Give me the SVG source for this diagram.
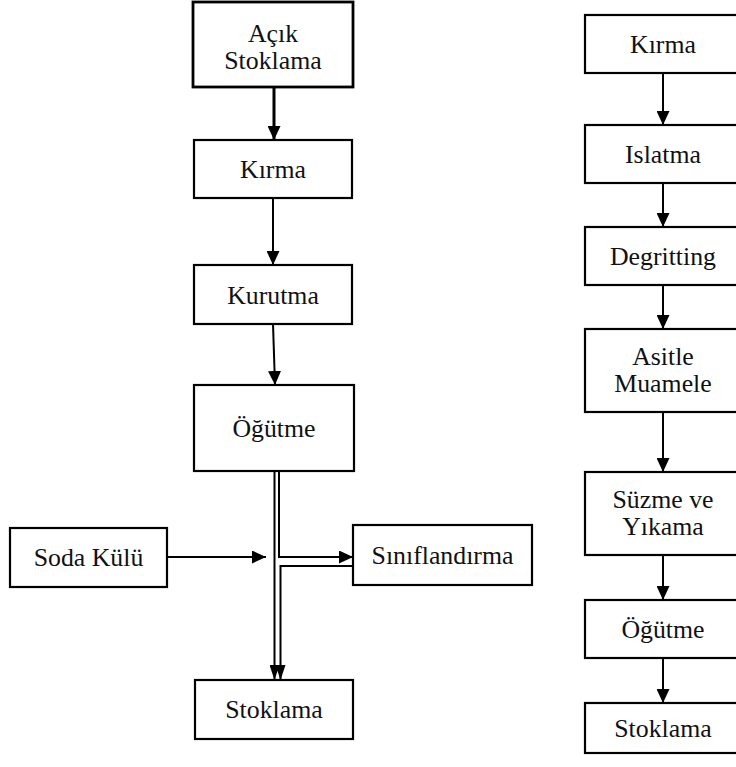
<svg xmlns="http://www.w3.org/2000/svg" width="736" height="767" viewBox="0 0 736 767">
  <style>
    .box { fill: #fff; stroke: #000; stroke-width: 2.2; }
    .lbl { font-family: "Liberation Serif", "Times New Roman", serif; font-size: 25.8px; fill: #111; text-anchor: middle; }
    .ln { fill: none; stroke: #000; stroke-width: 2; }
    .ah { fill: #000; }
  </style>
  <defs>
    <marker id="arrow" viewBox="0 0 14 13" refX="14" refY="6.5" markerWidth="14" markerHeight="13" markerUnits="userSpaceOnUse" orient="auto">
      <path d="M0,0 L14,6.5 L0,13 Z" class="ah"/>
    </marker>
    <marker id="arrowSm" viewBox="0 0 15 10" refX="15" refY="5" markerWidth="15" markerHeight="10" markerUnits="userSpaceOnUse" orient="auto">
      <path d="M0,0 L15,5 L0,10 Z" class="ah"/>
    </marker>
  </defs>

  <!-- left process line -->
  <g id="acik-stoklama">
    <rect class="box" x="193" y="2" width="160" height="85" style="stroke-width:2.8"/>
    <text class="lbl" x="273" y="42">Açık</text>
    <text class="lbl" x="273" y="69">Stoklama</text>
  </g>
  <g id="kirma-1">
    <rect class="box" x="194" y="140" width="158" height="58"/>
    <text class="lbl" x="273" y="178">Kırma</text>
  </g>
  <g id="kurutma">
    <rect class="box" x="194" y="265" width="158" height="59"/>
    <text class="lbl" x="273" y="304">Kurutma</text>
  </g>
  <g id="ogutme-1">
    <rect class="box" x="194" y="385" width="160" height="86"/>
    <text class="lbl" x="274" y="437">Öğütme</text>
  </g>
  <g id="soda-kulu">
    <rect class="box" x="10" y="528" width="157" height="59"/>
    <text class="lbl" x="88.5" y="566">Soda Külü</text>
  </g>
  <g id="siniflandirma">
    <rect class="box" x="353" y="525" width="179" height="60"/>
    <text class="lbl" x="442.5" y="564">Sınıflandırma</text>
  </g>
  <g id="stoklama-1">
    <rect class="box" x="195" y="680" width="158" height="59"/>
    <text class="lbl" x="274" y="718">Stoklama</text>
  </g>

  <!-- right process line -->
  <g id="kirma-2">
    <rect class="box" x="585" y="15" width="156" height="58"/>
    <text class="lbl" x="663" y="53">Kırma</text>
  </g>
  <g id="islatma">
    <rect class="box" x="585" y="125" width="156" height="58"/>
    <text class="lbl" x="663" y="163">Islatma</text>
  </g>
  <g id="degritting">
    <rect class="box" x="585" y="227" width="156" height="58"/>
    <text class="lbl" x="663" y="265">Degritting</text>
  </g>
  <g id="asitle-muamele">
    <rect class="box" x="585" y="329" width="156" height="83"/>
    <text class="lbl" x="663" y="365">Asitle</text>
    <text class="lbl" x="663" y="392">Muamele</text>
  </g>
  <g id="suzme-yikama">
    <rect class="box" x="585" y="472" width="156" height="83"/>
    <text class="lbl" x="663" y="508">Süzme ve</text>
    <text class="lbl" x="663" y="535">Yıkama</text>
  </g>
  <g id="ogutme-2">
    <rect class="box" x="585" y="600" width="156" height="58"/>
    <text class="lbl" x="663" y="638">Öğütme</text>
  </g>
  <g id="stoklama-2">
    <rect class="box" x="585" y="703" width="156" height="50"/>
    <text class="lbl" x="663" y="737">Stoklama</text>
  </g>

  <g id="connectors">
    <!-- left column -->
    <line class="ln" x1="274" y1="87" x2="274" y2="140" style="stroke-width:3" marker-end="url(#arrow)"/>
    <line class="ln" x1="273" y1="198" x2="273" y2="265" marker-end="url(#arrow)"/>
    <line class="ln" x1="273" y1="324" x2="275" y2="385" marker-end="url(#arrow)"/>
    <line class="ln" x1="274.5" y1="471" x2="274.5" y2="680" marker-end="url(#arrowSm)"/>
    <polyline class="ln" points="279,471 279,557 353,557" marker-end="url(#arrow)"/>
    <polyline class="ln" points="353,566 280.5,566 280.5,680" marker-end="url(#arrowSm)"/>
    <line class="ln" x1="167" y1="557" x2="266" y2="557" marker-end="url(#arrow)"/>
    <!-- right column -->
    <line class="ln" x1="663" y1="73" x2="663" y2="125" marker-end="url(#arrow)"/>
    <line class="ln" x1="663" y1="183" x2="663" y2="227" marker-end="url(#arrow)"/>
    <line class="ln" x1="663" y1="285" x2="663" y2="329" marker-end="url(#arrow)"/>
    <line class="ln" x1="663" y1="412" x2="663" y2="472" marker-end="url(#arrow)"/>
    <line class="ln" x1="663" y1="555" x2="663" y2="600" marker-end="url(#arrow)"/>
    <line class="ln" x1="663" y1="658" x2="663" y2="703" marker-end="url(#arrow)"/>
  </g>
</svg>
